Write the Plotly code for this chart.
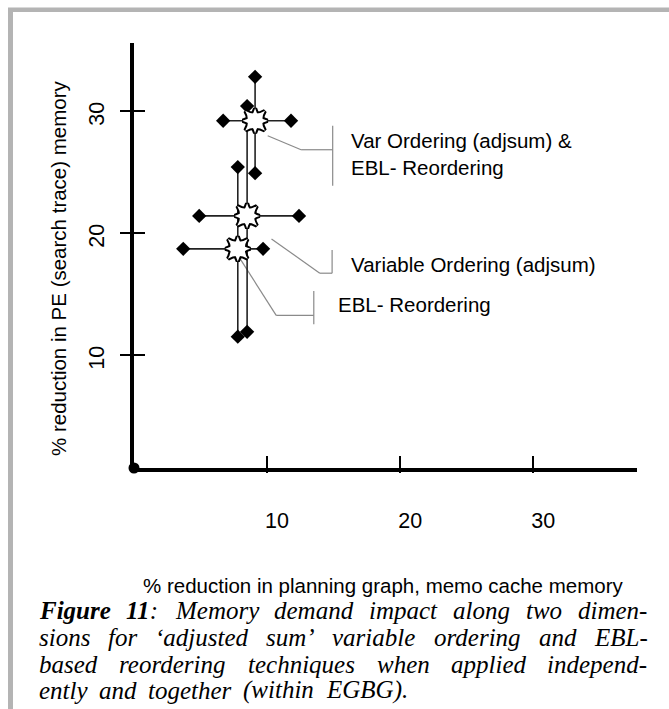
import plotly.graph_objects as go

# ---------------- data ----------------
groups = ["Var Ordering (adjsum) &<br>EBL- Reordering",
          "Variable Ordering (adjsum)",
          "EBL- Reordering"]
x_center = [9.1, 8.5, 7.8]
x_low = [6.7, 4.9, 3.7]
x_high = [11.8, 12.4, 9.7]
y_center = [29.2, 21.4, 18.7]
y_low = [24.9, 11.9, 11.5]
y_high = [32.8, 30.4, 25.4]

x_ticks = [10, 20, 30]
y_ticks = [10, 20, 30]
x_range = [0, 37.8]
y_range = [0.74, 35.57]

x_title = "% reduction in planning graph, memo cache memory"
y_title = "% reduction in PE (search trace) memory"
caption = [
    "Figure 11: Memory demand impact along two dimen-",
    "sions for \u2018adjusted sum\u2019 variable ordering and EBL-",
    "based reordering techniques when applied independ-",
    "ently and together (within EGBG).",
]
caption_bold = ["Figure", "11"]

# ---------------- geometry (pixels) ----------------
W, H = 669, 709
L, R, T, B = 134, 637, 43, 468

def px(x):
    return (x - L) / (R - L)

def py(y):
    return (B - y) / (B - T)

SANS = "Liberation Sans, Arial, sans-serif"
SERIF = "Liberation Serif, Times New Roman, serif"
FS = 20.5
TICK_FS = 21.5
CAP_FS = 25

# Times italic advance widths (per 1000 em), used to justify the caption
IT = dict(zip("abcdefghijklmnopqrstuvwxyz",
              [500, 500, 444, 500, 444, 278, 500, 500, 278, 278, 444, 278, 722,
               500, 500, 500, 500, 389, 389, 278, 500, 444, 667, 444, 444, 389]))
IT.update({"A": 611, "B": 611, "C": 667, "D": 722, "E": 611, "F": 611, "G": 722,
           "L": 556, "M": 833, ":": 333, "-": 333, "(": 333, ")": 333, ".": 250,
           "\u2018": 333, "\u2019": 333, "1": 500, " ": 250})
BI = dict(IT)
BI.update({"F": 667, "i": 278, "g": 500, "u": 556, "r": 389, "e": 444, "1": 500})


def word_parts(word):
    core = word.rstrip(":")
    if core in caption_bold:
        return [(core, True), (word[len(core):], False)]
    return [(word, False)]


def word_width(word):
    w = 0
    for seg, bold in word_parts(word):
        tab = BI if bold else IT
        w += sum(tab.get(ch, 500) for ch in seg)
    return w * CAP_FS / 1000.0


def word_html(word):
    out = ""
    for seg, bold in word_parts(word):
        if not seg:
            continue
        out += "<b>%s</b>" % seg if bold else seg
    return "<i>" + out + "</i>"


fig = go.Figure()

# error bars (arms)
fig.add_trace(go.Scatter(
    x=x_center, y=y_center, mode="markers",
    marker=dict(size=1, color="rgba(0,0,0,0)"),
    error_x=dict(type="data", symmetric=False,
                 array=[h - c for h, c in zip(x_high, x_center)],
                 arrayminus=[c - l for c, l in zip(x_center, x_low)],
                 width=0, thickness=1.6, color="#222"),
    error_y=dict(type="data", symmetric=False,
                 array=[h - c for h, c in zip(y_high, y_center)],
                 arrayminus=[c - l for c, l in zip(y_center, y_low)],
                 width=0, thickness=1.6, color="#222"),
    showlegend=False, hoverinfo="skip"))

# diamond end caps
fig.add_trace(go.Scatter(
    x=x_low + x_high, y=y_center + y_center, mode="markers",
    marker=dict(symbol="diamond", size=11, color="black"),
    showlegend=False))
fig.add_trace(go.Scatter(
    x=x_center + x_center, y=y_low + y_high, mode="markers",
    marker=dict(symbol="diamond", size=11, color="black"),
    showlegend=False))

# 8-point star centre markers (union of two 4-point stars)
for sym in ["star-square", "star-diamond"]:
    fig.add_trace(go.Scatter(
        x=x_center, y=y_center, mode="markers",
        marker=dict(symbol=sym, size=18, color="white",
                    line=dict(color="black", width=4)),
        showlegend=False))
for sym in ["star-square", "star-diamond"]:
    fig.add_trace(go.Scatter(
        x=x_center, y=y_center, mode="markers",
        marker=dict(symbol=sym, size=18, color="white",
                    line=dict(color="white", width=0)),
        showlegend=False))

# empty trace for the overlay axes (second half of tick marks)
fig.add_trace(go.Scatter(x=[], y=[], xaxis="x2", yaxis="y2", showlegend=False))

# ---------------- callouts ----------------
leaders = [
    [(12.6, -15, 46, -29), (46, -29, 77.6, -29), (77.6, -5, 77.6, -65)],
    [(24.4, -23, 72.7, -57.3), (72.7, -57.3, 85, -57.3), (85, -34, 85, -57.3)],
    [(2.7, -10.5, 38.4, -66.5), (38.4, -66.5, 76, -66.5), (76, -42.2, 76, -75.5)],
]
label_off = [(94, -33), (101.5, -49), (98.5, -56)]

shapes = []
annotations = []
for i in range(3):
    for (a, b, c, d) in leaders[i]:
        shapes.append(dict(
            type="line", xref="x", yref="y",
            xsizemode="pixel", ysizemode="pixel",
            xanchor=x_center[i], yanchor=y_center[i],
            x0=a, y0=b, x1=c, y1=d,
            line=dict(color="#8a8a8a", width=1.2), layer="below"))
    annotations.append(dict(
        x=x_center[i], y=y_center[i], xref="x", yref="y",
        xshift=label_off[i][0], yshift=label_off[i][1],
        text=groups[i], showarrow=False, xanchor="left", yanchor="middle",
        align="left", font=dict(family=SANS, size=FS, color="black")))

# origin dot
shapes.append(dict(type="circle", xref="x domain", yref="y domain",
                   xsizemode="pixel", ysizemode="pixel", xanchor=0, yanchor=0,
                   x0=-5.5, x1=5.5, y0=-5.5, y1=5.5,
                   fillcolor="black", line=dict(width=0)))

# gray frame (left and top)
shapes.append(dict(type="rect", xref="paper", yref="paper",
                   x0=px(8), x1=px(13), y0=py(H + 5), y1=py(8),
                   fillcolor="#b4b4b4", line=dict(width=0)))
shapes.append(dict(type="rect", xref="paper", yref="paper",
                   x0=px(8), x1=px(W + 5), y0=py(12), y1=py(7.5),
                   fillcolor="#b4b4b4", line=dict(width=0)))

# axis titles
annotations.append(dict(x=px(383), y=py(585), xref="paper", yref="paper",
                        text=x_title, showarrow=False,
                        xanchor="center", yanchor="middle",
                        font=dict(family=SANS, size=FS, color="black")))
annotations.append(dict(x=px(58), y=py(268), xref="paper", yref="paper",
                        text=y_title, showarrow=False, textangle=-90,
                        xanchor="center", yanchor="middle",
                        font=dict(family=SANS, size=FS, color="black")))

# caption: justified lines, placed word by word
cap_y = [610, 637, 664, 690]
cap_x0 = 37
cap_x1 = [645, 645, 645, 405]
for line, yy, x1 in zip(caption, cap_y, cap_x1):
    words = line.split(" ")
    widths = [word_width(w) for w in words]
    gap = (x1 - cap_x0 - sum(widths)) / (len(words) - 1)
    x = cap_x0
    for w, wd in zip(words, widths):
        annotations.append(dict(x=px(x), y=py(yy), xref="paper", yref="paper",
                                text=word_html(w), showarrow=False,
                                xanchor="left", yanchor="middle",
                                font=dict(family=SERIF, size=CAP_FS, color="black")))
        x += wd + gap

axis_common = dict(showgrid=False, zeroline=False)

fig.update_layout(
    width=W, height=H,
    margin=dict(l=L, r=W - R, t=T, b=H - B, pad=0),
    paper_bgcolor="white", plot_bgcolor="white",
    showlegend=False,
    xaxis=dict(range=x_range, tickvals=x_ticks, ticktext=[str(v) for v in x_ticks],
               ticks="inside", ticklen=12, tickwidth=1.5, tickcolor="black",
               showline=True, linewidth=3.5, linecolor="black",
               ticklabelstandoff=30, ticklabelshift=10,
               tickfont=dict(family=SANS, size=TICK_FS, color="black"),
               **axis_common),
    yaxis=dict(range=y_range, tickvals=y_ticks, ticktext=[str(v) for v in y_ticks],
               ticks="outside", ticklen=10, tickwidth=1.5, tickcolor="black",
               showline=True, linewidth=3.5, linecolor="black",
               tickangle=-90, ticklabelstandoff=8, ticklabelshift=6,
               tickfont=dict(family=SANS, size=TICK_FS, color="black"),
               **axis_common),
    xaxis2=dict(range=x_range, tickvals=x_ticks, overlaying="x", anchor="y",
                side="bottom", ticks="outside", ticklen=4, tickwidth=1.5,
                tickcolor="black", showticklabels=False, showline=False,
                **axis_common),
    yaxis2=dict(range=y_range, tickvals=y_ticks, overlaying="y", anchor="x",
                side="left", ticks="inside", ticklen=11, tickwidth=1.5,
                tickcolor="black", showticklabels=False, showline=False,
                **axis_common),
    shapes=shapes,
    annotations=annotations,
)

fig.write_html("out.html")
